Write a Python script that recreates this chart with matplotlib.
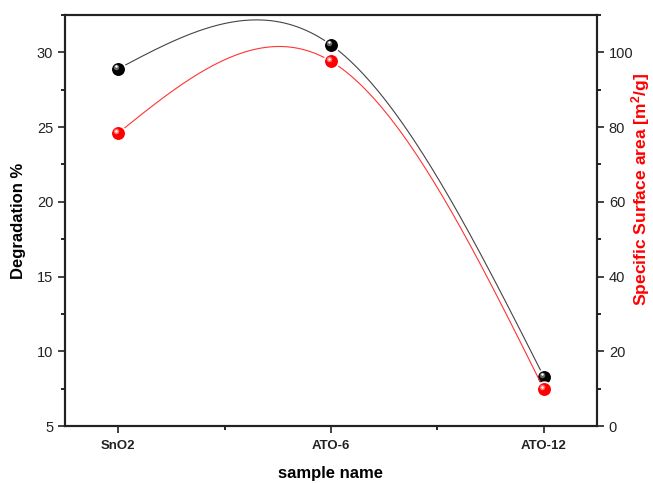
import numpy as np
import matplotlib
matplotlib.use("Agg")
import matplotlib.pyplot as plt
from matplotlib.ticker import MultipleLocator
import matplotlib.transforms as mtransforms

plt.rcParams['font.family'] = ['Liberation Sans', 'DejaVu Sans']
plt.rcParams['mathtext.fontset'] = 'custom'
plt.rcParams['mathtext.rm'] = 'Liberation Sans:bold'
plt.rcParams['mathtext.default'] = 'rm'

samples = ["SnO2", "ATO-6", "ATO-12"]
degradation = [28.9, 30.5, 8.3]
surface_area = [78.4, 97.6, 9.9]


def natural_spline(y, n=200):
    y = np.asarray(y, float)
    m = len(y)
    A = np.zeros((m, m)); r = np.zeros(m)
    A[0, 0] = 1; A[-1, -1] = 1
    for i in range(1, m - 1):
        A[i, i - 1] = 1; A[i, i] = 4; A[i, i + 1] = 1
        r[i] = 6 * (y[i - 1] - 2 * y[i] + y[i + 1])
    M = np.linalg.solve(A, r)
    xs = np.linspace(0, m - 1, n)
    ys = np.empty_like(xs)
    for k, xv in enumerate(xs):
        i = min(int(np.floor(xv)), m - 2)
        t = xv - i
        ys[k] = (M[i] * (1 - t) ** 3 / 6 + M[i + 1] * t ** 3 / 6
                 + (y[i] - M[i] / 6) * (1 - t) + (y[i + 1] - M[i + 1] / 6) * t)
    return xs, ys


W, H = 653, 483
fig = plt.figure(figsize=(W / 100, H / 100), dpi=100)
ax = fig.add_axes([65 / W, 1 - 426 / H, (597 - 65) / W, (426 - 15) / H])
ax2 = ax.twinx()

x = np.arange(len(samples))


def balls(axis, xv, yv, color, light):
    axis.plot(xv, yv, 'o', ms=10.5, color=color, mec='white', mew=1.2, zorder=5)
    off = mtransforms.offset_copy(axis.transData, fig=fig, x=-1.5, y=1.5, units='points')
    axis.plot(xv, yv, 'o', ms=4, color=light, mew=0, alpha=0.6, transform=off, zorder=6)
    off2 = mtransforms.offset_copy(axis.transData, fig=fig, x=-1.6, y=1.8, units='points')
    axis.plot(xv, yv, 'o', ms=1.8, color='white', mew=0, transform=off2, zorder=7)


xs, ys = natural_spline(degradation)
ax.plot(xs, ys, color='#444444', lw=0.8, zorder=3)
balls(ax, x, degradation, 'black', '#aaaaaa')

xs2, ys2 = natural_spline(surface_area)
ax2.plot(xs2, ys2, color='#ff3333', lw=0.8, zorder=3)
balls(ax2, x, surface_area, '#ff0000', '#ffbbbb')

ax.set_xlim(-0.25, 2.25)
ax.set_ylim(5, 32.5)
ax2.set_ylim(0, 110)
ax.set_xticks(x)
ax.set_xticklabels(samples, fontweight='bold', fontsize=9.5)
ax.xaxis.set_minor_locator(MultipleLocator(0.5))
ax.yaxis.set_major_locator(MultipleLocator(5))
ax.yaxis.set_minor_locator(MultipleLocator(2.5))
ax2.yaxis.set_major_locator(MultipleLocator(20))
ax2.yaxis.set_minor_locator(MultipleLocator(10))

for a in (ax, ax2):
    a.tick_params(which='major', direction='out', length=5, width=1.2, labelsize=10.5, colors='#222222')
    a.tick_params(which='minor', direction='out', length=3, width=1.2)
    for s in a.spines.values():
        s.set_linewidth(1.5)
        s.set_color('#222222')
ax.tick_params(axis='x', labelsize=9.5, pad=5)

ax.set_ylabel("Degradation %", fontweight='bold', fontsize=12, labelpad=8)
fig.text(640.5 / W, 1 - 189 / H, "Specific Surface area [m$^2$/g]", rotation=90,
         ha='center', va='center', fontweight='bold', fontsize=12.6, color='red')
ax.set_xlabel("sample name", fontweight='bold', fontsize=12, labelpad=10)

fig.savefig("out.png", dpi=100)
